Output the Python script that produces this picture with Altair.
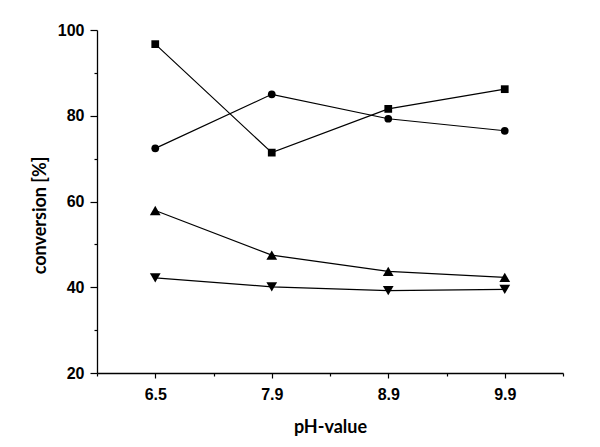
import altair as alt
import pandas as pd

ph_labels = ["6.5", "7.9", "8.9", "9.9"]
series_names = ["S1", "S2", "S3", "S4"]
s1_square = [96.7, 71.4, 81.6, 86.2]
s2_circle = [72.4, 85.0, 79.3, 76.5]
s3_up = [57.9, 47.5, 43.7, 42.3]
s4_down = [42.2, 40.1, 39.2, 39.5]

rows = []
for name, vals in zip(series_names, [s1_square, s2_circle, s3_up, s4_down]):
    for i, (p, v) in enumerate(zip(ph_labels, vals)):
        rows.append({"series": name, "idx": i, "ph": p, "conversion": v})
df = pd.DataFrame(rows)

label_arr = "[" + ",".join("'" + p + "'" for p in ph_labels) + "]"
x_vals = [i * 0.5 - 0.5 for i in range(2 * len(ph_labels) + 1)]

x_enc = alt.X(
    "idx:Q",
    scale=alt.Scale(domain=[-0.5, len(ph_labels) - 0.5], nice=False, zero=False),
    axis=alt.Axis(
        values=x_vals,
        labelExpr=f"datum.value % 1 === 0 ? {label_arr}[datum.value] : ''",
        title="pH-value",
        grid=False,
        tickSize={"condition": {"test": "datum.value % 1 !== 0", "value": 3}, "value": 5},
        labelPadding=8,
        titleX=233,
        titleY=54,
        titleBaseline="middle",
    ),
)
y_enc = alt.Y(
    "conversion:Q",
    scale=alt.Scale(domain=[20, 100], nice=False, zero=False),
    axis=alt.Axis(
        values=list(range(20, 101, 10)),
        labelExpr="datum.value % 20 === 0 ? datum.label : ''",
        title="conversion [%]",
        grid=False,
        tickSize={"condition": {"test": "datum.value % 20 !== 0", "value": 3}, "value": 7},
        labelPadding=6,
        titleX=-57,
        titleY=185,
        titleAngle=-90,
        titleAlign="center",
        titleBaseline="middle",
    ),
)

shape_enc = alt.Shape(
    "series:N",
    scale=alt.Scale(domain=series_names, range=["square", "circle", "triangle-up", "triangle-down"]),
    legend=None,
)

base = alt.Chart(df)
lines = base.mark_line(color="black", strokeWidth=1.2).encode(
    x=x_enc, y=y_enc, detail="series:N", order="idx:Q"
)
pts_small = (
    base.transform_filter(alt.FieldOneOfPredicate(field="series", oneOf=series_names[:2]))
    .mark_point(filled=True, color="black", opacity=1, size=60)
    .encode(x=x_enc, y=y_enc, shape=shape_enc)
)
pts_tri = (
    base.transform_filter(alt.FieldOneOfPredicate(field="series", oneOf=series_names[2:]))
    .mark_point(filled=True, color="black", opacity=1, size=115)
    .encode(x=x_enc, y=y_enc, shape=shape_enc)
)

chart = (
    alt.layer(lines, pts_small, pts_tri)
    .properties(
        width=466,
        height=343,
        autosize="none",
        padding={"left": 89, "top": 22, "right": 29, "bottom": 66},
        background="white",
    )
    .configure_view(stroke=None)
    .configure_axis(
        domainColor="black",
        domainWidth=1.3,
        tickColor="black",
        tickWidth=1.2,
        labelFont="Liberation Sans",
        labelFontWeight="bold",
        labelFontSize=16,
        labelColor="black",
        titleFont="Lato",
        titleFontWeight="bold",
        titleFontSize=18,
        titleColor="black",
    )
)

chart.save("out.html", embed_options={"renderer": "svg", "actions": False})
